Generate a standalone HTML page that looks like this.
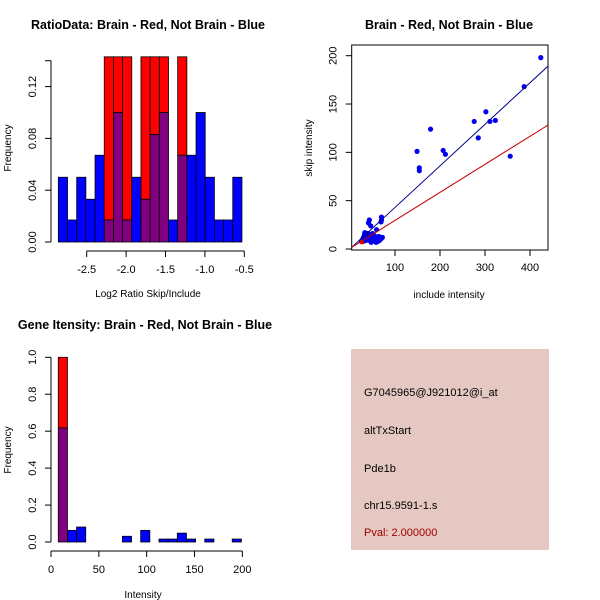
<!DOCTYPE html>
<html><head><meta charset="utf-8"><style>
body{margin:0;background:#fff}
svg{display:block;font-family:"Liberation Sans",sans-serif}
</style></head><body>
<svg id="c" width="600" height="600" viewBox="0 0 600 600">
<rect width="600" height="600" fill="#fff"/>
<g id="p1"></g>
<g id="p2"></g>
<g id="p3"></g>
<g id="p4">
<rect x="351" y="349" width="198" height="201" fill="#e5c8c1"/>
<text x="364" y="396" font-size="11" fill="#000">G7045965@J921012@i_at</text>
<text x="364" y="434" font-size="11" fill="#000">altTxStart</text>
<text x="364" y="472" font-size="11" fill="#000">Pde1b</text>
<text x="364" y="509" font-size="11" fill="#000">chr15.9591-1.s</text>
<text x="364" y="536" font-size="11" fill="#a00000">Pval: 2.000000</text>
</g>
</svg>
<script>
// Panel 1 data
const ratioBlue = [0.05,0.017,0.05,0.033,0.067,0.017,0.1,0.017,0.05,0.033,0.083,0.1,0.017,0.067,0.067,0.1,0.05,0.017,0.017,0.05];
const ratioRed = [0,0,0,0,0,0.143,0.143,0.143,0,0.143,0.143,0.143,0,0.143,0,0,0,0,0,0];
const ratioBinStart = -2.86;
const ratioBinWidth = 0.1165;
const ratioXTicks = [-2.5,-2.0,-1.5,-1.0,-0.5];
const ratioYTicks = [0,0.04,0.08,0.12];
// Panel 2 data
const scatterX = [424,387,302,276,311,323,285,179,149,154,154,207,212,356,43,41,46,70,70,69,59,25,28,30,32,33,35,38,40,42,45,48,50,52,55,57,60,62,65,68,70,36,44,47,54,58,64,72,30,40,50,66];
const scatterY = [198,168,142,132,132,133,115,124,101,84,81,102,98,96,30,27,24,33,30,28,20,8,10,12,15,17,14,12,10,9,11,13,8,10,12,9,11,8,10,12,11,9,15,7,14,7,13,12,8,16,16,9];
const redPointX = [26];
const redPointY = [7];
const blueFit = [0.43,0];
const redFit = [0.29,0.6];
const scatXTicks = [100,200,300,400];
const scatYTicks = [0,50,100,150,200];
// Panel 3 data
const geneBlue = [0.617,0.063,0.081,0,0,0,0,0.031,0,0.063,0,0.016,0.016,0.048,0.016,0,0.016,0,0,0.016];
const geneRed = [1.0,0,0,0,0,0,0,0,0,0,0,0,0,0,0,0,0,0,0,0];
const geneBinStart = 7.6;
const geneBinWidth = 9.57;
const geneXTicks = [0,50,100,150,200];
const geneYTicks = [0,0.2,0.4,0.6,0.8,1.0];

const NS='http://www.w3.org/2000/svg';
function mk(parent,tag,attrs,text){const e=document.createElementNS(NS,tag);for(const k in attrs)e.setAttribute(k,attrs[k]);if(text!==undefined)e.textContent=text;parent.appendChild(e);return e;}
function fmt(v,d){return v.toFixed(d);}

function histPanel(g,blue,red,bs,bw,xs,ys,xTicks,yTicks,yDec,xDec,yAxisTop,xAxisY){
  for(let i=0;i<blue.length;i++){
    const x0=xs(bs+i*bw),x1=xs(bs+(i+1)*bw);
    const b=blue[i],r=red[i];
    const hi=Math.max(b,r);
    if(hi<=0)continue;
    if(r>b){
      let e=mk(g,'rect',{x:x0,y:ys(r),width:x1-x0,height:ys(b)-ys(r),fill:'#ff0000',stroke:'#000','stroke-width':0.8});
      
      
      if(b>0){e=mk(g,'rect',{x:x0,y:ys(b),width:x1-x0,height:ys(0)-ys(b),fill:'#800080',stroke:'#000','stroke-width':0.8});
      
      }
    }else{
      let e=mk(g,'rect',{x:x0,y:ys(b),width:x1-x0,height:ys(0)-ys(b),fill:'#0000ff',stroke:'#000','stroke-width':0.8});
      
      
      if(r>0){e=mk(g,'rect',{x:x0,y:ys(r),width:x1-x0,height:ys(0)-ys(r),fill:'#800080',stroke:'#000','stroke-width':0.8});
      
      }
    }
  }
  const ax=51;
  let a=mk(g,'line',{x1:ax,x2:ax,y1:ys(0),y2:yAxisTop,stroke:'#000'});
  
  
  for(const t of yTicks){
    mk(g,'line',{x1:ax-6,x2:ax,y1:ys(t),y2:ys(t),stroke:'#000'});
    const tx=mk(g,'text',{x:ax-15,y:ys(t),'font-size':11,'text-anchor':'middle',transform:`rotate(-90 ${ax-15} ${ys(t)})`},fmt(t,yDec));
    
    
  }
  a=mk(g,'line',{x1:xs(xTicks[0]),x2:xs(xTicks[xTicks.length-1]),y1:xAxisY,y2:xAxisY,stroke:'#000'});
  
  
  for(const t of xTicks){
    mk(g,'line',{x1:xs(t),x2:xs(t),y1:xAxisY,y2:xAxisY+6,stroke:'#000'});
    const tx=mk(g,'text',{x:xs(t),y:xAxisY+22,'font-size':11,'text-anchor':'middle'},fmt(t,xDec));
    
    
  }
}

// Panel 1
(function(){
  const g=document.getElementById('p1');
  const xs=v=>86.7+(v+2.5)*78.8, ys=v=>242-v*1295;
  histPanel(g,ratioBlue,ratioRed,ratioBinStart,ratioBinWidth,xs,ys,ratioXTicks,ratioYTicks,2,1,60.7,251);
  mk(g,'line',{x1:45,x2:51,y1:ys(0.14),y2:ys(0.14),stroke:'#000'});
  let t=mk(g,'text',{x:148,y:29,'font-size':12.5,'font-weight':'bold','text-anchor':'middle'},'RatioData: Brain - Red, Not Brain - Blue');
  
  t=mk(g,'text',{x:148,y:297,'font-size':10,'text-anchor':'middle'},'Log2 Ratio Skip/Include');
  
  t=mk(g,'text',{x:11,y:148,'font-size':10,'text-anchor':'middle',transform:'rotate(-90 11 148)'},'Frequency');
  
})();

// Panel 2
(function(){
  const g=document.getElementById('p2');
  const xs=v=>395+(v-100)*0.45, ys=v=>249-v*0.9665;
  const L=351.7,R=548,T=45,B=250;
  let e=mk(g,'rect',{x:L,y:T,width:R-L,height:B-T,fill:'none',stroke:'#000'});
  
  const x0=(L-395)/0.45+100,x1=(R-395)/0.45+100;
  const cp=mk(g,'clipPath',{id:'cp2'});mk(cp,'rect',{x:L,y:T,width:R-L,height:B-T});
  const gl=mk(g,'g',{'clip-path':'url(#cp2)'});
  for(let i=0;i<scatterX.length;i++){
    e=mk(gl,'circle',{cx:xs(scatterX[i]),cy:ys(scatterY[i]),r:2.6,fill:'#0000ee'});
    
    
  }
  for(let i=0;i<redPointX.length;i++){
    e=mk(gl,'circle',{cx:xs(redPointX[i]),cy:ys(redPointY[i]),r:2.2,fill:'#ee0000'});
    
    
  }
  e=mk(gl,'line',{x1:xs(x0),y1:ys(blueFit[0]*x0+blueFit[1]),x2:xs(x1),y2:ys(blueFit[0]*x1+blueFit[1]),stroke:'#00008b','stroke-width':1});
  
  e=mk(gl,'line',{x1:xs(x0),y1:ys(redFit[0]*x0+redFit[1]),x2:xs(x1),y2:ys(redFit[0]*x1+redFit[1]),stroke:'#cc0000','stroke-width':1});
  
  for(const t of scatXTicks){
    mk(g,'line',{x1:xs(t),x2:xs(t),y1:B,y2:B+6,stroke:'#000'});
    e=mk(g,'text',{x:xs(t),y:B+21,'font-size':11,'text-anchor':'middle'},t);
    
  }
  for(const t of scatYTicks){
    mk(g,'line',{x1:L-6,x2:L,y1:ys(t),y2:ys(t),stroke:'#000'});
    e=mk(g,'text',{x:L-15,y:ys(t),'font-size':11,'text-anchor':'middle',transform:`rotate(-90 ${L-15} ${ys(t)})`},t);
    
  }
  e=mk(g,'text',{x:449,y:29,'font-size':12.5,'font-weight':'bold','text-anchor':'middle'},'Brain - Red, Not Brain - Blue');
  
  e=mk(g,'text',{x:449,y:298,'font-size':10,'text-anchor':'middle'},'include intensity');
  
  e=mk(g,'text',{x:312,y:148,'font-size':10,'text-anchor':'middle',transform:'rotate(-90 312 148)'},'skip intensity');
  
})();

// Panel 3
(function(){
  const g=document.getElementById('p3');
  const xs=v=>51+v*0.9567, ys=v=>542-v*184.7;
  histPanel(g,geneBlue,geneRed,geneBinStart,geneBinWidth,xs,ys,geneXTicks,geneYTicks,1,0,ys(1.0),551);
  let t=mk(g,'text',{x:145,y:329,'font-size':12.5,'font-weight':'bold','text-anchor':'middle'},'Gene Itensity: Brain - Red, Not Brain - Blue');
  
  t=mk(g,'text',{x:143,y:598,'font-size':10,'text-anchor':'middle'},'Intensity');
  
  t=mk(g,'text',{x:11,y:450,'font-size':10,'text-anchor':'middle',transform:'rotate(-90 11 450)'},'Frequency');
  
})();
</script>
</body></html>
